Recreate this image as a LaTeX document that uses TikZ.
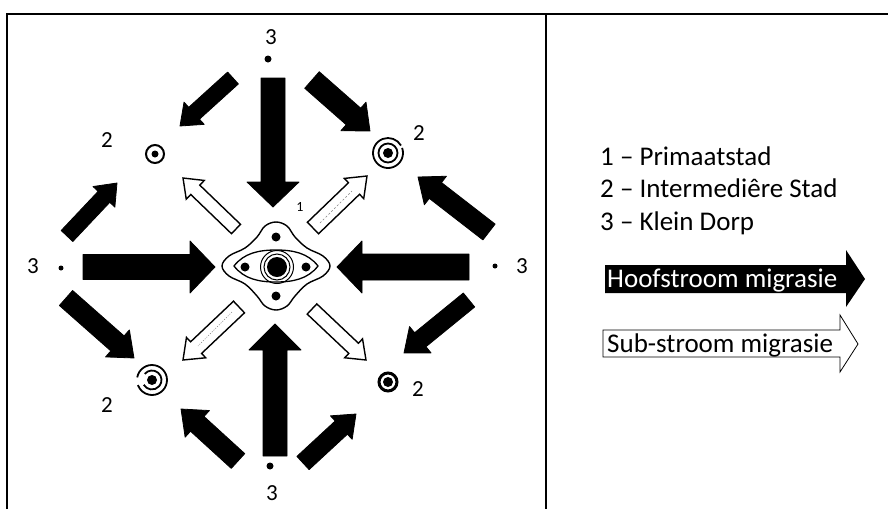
\documentclass[tikz,border=0pt]{standalone}
\usepackage{fontspec}
\setmainfont{Carlito}
\usetikzlibrary{calc}
% #1 style, (#2,#3) tail, (#4,#5) tip, #6 shaft half width, #7 head half width, #8 head length
\newcommand\migarrow[8]{%
  \pgfmathsetmacro\maang{atan2(-((#5)-(#3)),(#4)-(#2))}%
  \pgfmathsetmacro\malen{veclen((#4)-(#2),(#5)-(#3))}%
  \pgfmathsetmacro\mabase{\malen-(#8)}%
  \begin{scope}[shift={(#2,#3)},rotate=\maang]
    \draw[#1] (0,-#6) -- (\mabase,-#6) -- (\mabase,-#7) -- (\malen,0) -- (\mabase,#7) -- (\mabase,#6) -- (0,#6) -- cycle;
  \end{scope}}
\begin{document}
\begin{tikzpicture}[x=1pt,y=-1pt,
  mainarrow/.style={fill=black,draw=black,line width=0.8pt,line join=round},
  subarrow/.style={fill=white,draw=black,line width=1.4pt,line join=miter},
  legarrow/.style={draw=black,line width=0.8pt,line join=miter},
  lbl/.style={font=\fontsize{23}{27}\selectfont,inner sep=0pt},
  leg/.style={font=\fontsize{27}{32}\selectfont,anchor=base west,inner sep=0pt},
  frame/.style={line width=2pt}]
\useasboundingbox (0,0) rectangle (888,509);
% frame
\draw[frame] (7,509) -- (7,14) -- (888,14);
\draw[frame] (546,14) -- (546,509);

% main (black) arrows towards the centre
\migarrow{mainarrow}{273}{78}{273}{207}{12}{26}{25}
\migarrow{mainarrow}{275}{456}{275}{324}{12}{26}{26}
\migarrow{mainarrow}{83}{267}{215}{267}{12.5}{26}{25}
\migarrow{mainarrow}{469}{267}{337}{267}{13}{26}{25}
% diagonal black arrows
\migarrow{mainarrow}{233}{78}{180}{126}{8}{15}{19}
\migarrow{mainarrow}{312}{80}{370}{131}{11}{19}{22}
\migarrow{mainarrow}{67}{236}{117}{183}{8}{15}{19}
\migarrow{mainarrow}{489}{232}{418}{177}{10}{18}{22}
\migarrow{mainarrow}{66}{298}{134}{358}{10}{18}{22}
\migarrow{mainarrow}{469}{300}{404}{353}{9}{17}{21}
\migarrow{mainarrow}{238}{461}{181}{409}{10}{18}{22}
\migarrow{mainarrow}{303}{463}{356}{414}{9}{16}{20}
% white (sub-stream) arrows, outward
\migarrow{subarrow}{236}{229}{183}{178}{6.5}{13}{17}
\migarrow{subarrow}{313}{228}{367}{176}{8}{14}{18}
\migarrow{subarrow}{239}{307}{183}{360}{8}{14}{18}
\migarrow{subarrow}{312}{309}{366}{360}{7}{13}{17}
% faint texture inside two sub-stream arrows
\draw[gray,line width=0.6pt,dash pattern=on 2pt off 2pt] (320,223) -- (352,191);
\draw[gray,line width=0.6pt,dash pattern=on 1pt off 1.5pt] (232,312) -- (198,346);

% primate city symbol
\draw[line width=1.4pt] plot[smooth cycle,tension=0.6] coordinates {(222,266) (229,256) (245,248) (257,237) (265,226) (276,222) (287,226) (295,237) (307,248) (323,256) (330,266) (323,276) (307,284) (295,296) (287,306) (276,310) (265,306) (257,296) (245,284) (229,276)};
\draw[line width=1.3pt] (234,266) .. controls (244,253) and (259,250) .. (276,250) .. controls (293,250) and (308,253) .. (318,266) .. controls (308,279) and (293,282) .. (276,282) .. controls (259,282) and (244,279) .. (234,266) -- cycle;
\fill (276,237) circle (4.5);
\fill (276,296) circle (4.5);
\fill (245,267) circle (4.5);
\fill (306,267) circle (4.5);
\draw[line width=1pt] (277,267) circle (16.5);
\draw[line width=1pt] (277,267) circle (13);
\fill (277,267) circle (10);

% intermediate city symbols
\draw[line width=2pt] (155,154) circle (9);
\fill (155,154) circle (3.5);
\draw[line width=1.8pt] (388,153) ++(-20:15) arc (-20:330:15);
\draw[line width=1.8pt] (388,153) circle (9.5);
\fill (388,153) circle (5);
\draw[line width=1.8pt] (152,380) ++(190:15) arc (190:520:15);
\draw[line width=1.8pt] (152,380) ++(220:9.5) arc (220:510:9.5);
\fill (152,380) circle (5);
\draw[line width=3pt] (388,382) circle (9);
\fill (388,382) circle (5);

% small villages
\fill (268,59) circle (3.5);
\fill (270,466) circle (3.5);
\fill (61,268) circle (2.5);
\fill (495,266) circle (2.5);

% labels
\node[lbl] (t3) at (271,37) {3};
\node[lbl] (b3) at (272,493) {3};
\node[lbl] (l3) at (33,266) {3};
\node[lbl] (r3) at (522,266) {3};
\node[lbl] (tl2) at (107,140) {2};
\node[lbl] (tr2) at (419,133) {2};
\node[lbl] (bl2) at (107,405) {2};
\node[lbl] (br2) at (418,389) {2};
\node[font=\fontsize{14}{16}\selectfont,inner sep=0pt] (one) at (300,207) {1};

% legend
\node[leg] (lg1) at (600,165) {1 – Primaatstad};
\node[leg] (lg2) at (600,197) {2 – Intermediêre Stad};
\node[leg] (lg3) at (600,230) {3 – Klein Dorp};
\fill[black] (605,265) -- (846,265) -- (846,250) -- (865,279) -- (846,307) -- (846,293) -- (605,293) -- cycle;
\node[leg,text=white,anchor=base west] (hoof) at (607,287) {Hoofstroom migrasie};
\draw[legarrow,fill=white] (603,330) -- (840,330) -- (840,315) -- (858,344) -- (840,372) -- (840,357) -- (603,357) -- cycle;
\node[leg,anchor=base west] (sub) at (607,352) {Sub-stroom migrasie};
\end{tikzpicture}
\end{document}
